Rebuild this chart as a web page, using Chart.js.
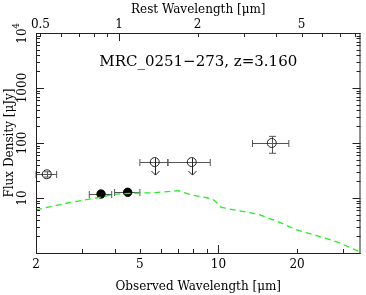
<!DOCTYPE html>
<html>
<head>
<meta charset="utf-8">
<script src="https://cdn.jsdelivr.net/npm/chart.js@4.4.1/dist/chart.umd.min.js"></script>
<style>
  html, body { margin: 0; padding: 0; background: #fff; }
  #wrap { width: 366px; height: 295px; }
</style>
</head>
<body>
<div id="wrap"><canvas id="sed" width="366" height="295"></canvas></div>
<script>
const redshift = 3.160;
const objName = "MRC_0251\u2212273, z=3.160";

// open circles with error bars (K band, 16um)
const openWave = [2.2, 16];
const openFlux = [27, 100];
const openWaveLo = [2.0, 13.5];
const openWaveHi = [2.4, 18.6];
const openFluxLo = [24, 65];
const openFluxHi = [30, 132];

// IRAC detections
const irWave = [3.55, 4.49];
const irFlux = [11.8, 12.7];
const irWaveLo = [3.2, 4.0];
const irWaveHi = [3.9, 5.0];

// upper limits
const limWave = [5.7, 7.9];
const limFlux = [45, 45];
const limWaveLo = [5.0, 6.4];
const limWaveHi = [6.4, 9.3];

// stellar template (green dashed)
const sedWave = [2.0, 2.54, 2.94, 3.4, 4.04, 4.95, 5.73, 7.02, 7.89, 9.12, 9.39, 9.81, 10.25, 11.85, 14.1, 16.8, 20, 23.8, 28.4, 34.7];
const sedFlux = [6.1, 7.8, 8.9, 10, 11.8, 12.3, 12.5, 13.6, 11.3, 10, 9.9, 8.35, 6.77, 5.88, 5.12, 3.77, 2.62, 2.06, 1.6, 1.06];

// ticks
const obsTicks = [2, 3, 4, 5, 6, 7, 8, 9, 10, 20, 30];
const obsLabels = [2, 5, 10, 20];
const restTicks = [0.5, 0.6, 0.7, 0.8, 0.9, 1, 2, 3, 4, 5, 6, 7, 8];
const restLabels = [0.5, 1, 2, 5];
const fluxTicks = [1, 2, 3, 4, 5, 6, 7, 8, 9, 10, 20, 30, 40, 50, 60, 70, 80, 90,
  100, 200, 300, 400, 500, 600, 700, 800, 900, 1000, 2000, 3000, 4000, 5000, 6000, 7000, 8000, 9000, 10000];
const fluxLabels = [10, 100, 1000];

const serif = "'DejaVu Serif', serif";
const ink = "#222";
const barInk = "#555";

const isDecade = v => Math.abs(Math.log10(v) - Math.round(Math.log10(v))) < 1e-6;

const framePlugin = {
  id: "frame",
  beforeDatasetsDraw(chart) {
    const ctx = chart.ctx;
    const xs = chart.scales.x, ys = chart.scales.y;
    ctx.save();
    ctx.strokeStyle = barInk;
    ctx.lineWidth = 1;
    const bar = (x1, y1, x2, y2) => {
      ctx.beginPath(); ctx.moveTo(x1, y1); ctx.lineTo(x2, y2); ctx.stroke();
    };
    const hbar = (lo, hi, v) => {
      const y = Math.round(ys.getPixelForValue(v)) + 0.5;
      const a = xs.getPixelForValue(lo), b = xs.getPixelForValue(hi);
      bar(a, y, b, y); bar(a, y - 3.5, a, y + 3.5); bar(b, y - 3.5, b, y + 3.5);
    };
    const vbar = (x0, lo, hi) => {
      const x = Math.round(xs.getPixelForValue(x0)) + 0.5;
      const a = ys.getPixelForValue(lo), b = ys.getPixelForValue(hi);
      bar(x, a, x, b); bar(x - 3.5, a, x + 3.5, a); bar(x - 3.5, b, x + 3.5, b);
    };
    openWave.forEach((w, i) => {
      hbar(openWaveLo[i], openWaveHi[i], openFlux[i]);
      vbar(w, openFluxLo[i], openFluxHi[i]);
    });
    irWave.forEach((w, i) => hbar(irWaveLo[i], irWaveHi[i], irFlux[i]));
    limWave.forEach((w, i) => {
      hbar(limWaveLo[i], limWaveHi[i], limFlux[i]);
      const x = Math.round(xs.getPixelForValue(w)) + 0.5;
      const y = ys.getPixelForValue(limFlux[i]);
      ctx.strokeStyle = ink;
      bar(x, y - 4, x, y + 13);
      bar(x - 4, y + 9, x, y + 13); bar(x + 4, y + 9, x, y + 13);
      ctx.strokeStyle = barInk;
    });
    ctx.restore();
  },
  afterDraw(chart) {
    const ctx = chart.ctx;
    const a = chart.chartArea;
    const xs = chart.scales.x, xt = chart.scales.x2, ys = chart.scales.y;
    ctx.save();
    ctx.strokeStyle = ink;
    ctx.lineWidth = 1;
    ctx.strokeRect(a.left + 0.5, a.top + 0.5, a.right - a.left - 1, a.bottom - a.top);
    ctx.beginPath();
    obsTicks.forEach(v => {
      const x = Math.round(xs.getPixelForValue(v)) + 0.5;
      const len = isDecade(v) ? 8 : 4;
      ctx.moveTo(x, a.bottom); ctx.lineTo(x, a.bottom - len);
    });
    restTicks.forEach(v => {
      const x = Math.round(xt.getPixelForValue(v)) + 0.5;
      const len = isDecade(v) ? 8 : 4;
      ctx.moveTo(x, a.top); ctx.lineTo(x, a.top + len);
    });
    fluxTicks.forEach(v => {
      const y = Math.round(ys.getPixelForValue(v)) + 0.5;
      const len = isDecade(v) ? 8 : 4;
      ctx.moveTo(a.left, y); ctx.lineTo(a.left + len, y);
      ctx.moveTo(a.right, y); ctx.lineTo(a.right - len, y);
    });
    ctx.stroke();

    // rotated y tick labels
    ctx.fillStyle = "#000";
    ctx.font = "12px " + serif;
    ctx.textAlign = "center";
    ctx.textBaseline = "middle";
    fluxLabels.forEach(v => {
      ctx.save();
      ctx.translate(23, ys.getPixelForValue(v));
      ctx.rotate(-Math.PI / 2);
      ctx.fillText(String(v), 0, 0);
      ctx.restore();
    });
    ctx.save();
    ctx.translate(23, ys.getPixelForValue(10000));
    ctx.rotate(-Math.PI / 2);
    ctx.fillText("10", -3, 0);
    ctx.font = "9px " + serif;
    ctx.fillText("4", 7, -6);
    ctx.restore();

    // object label inside the frame
    ctx.font = "15px " + serif;
    ctx.fillText(objName, (a.left + a.right) / 2, a.top + 29);
    ctx.restore();
  }
};

new Chart("sed", {
  type: "scatter",
  data: {
    datasets: [
      {
        type: "line",
        data: sedWave.map((w, i) => ({ x: w, y: sedFlux[i] })),
        borderColor: "#22ee22",
        borderWidth: 1.3,
        borderDash: [6, 4],
        pointRadius: 0,
        fill: false,
        tension: 0
      },
      {
        data: openWave.map((w, i) => ({ x: w, y: openFlux[i] })),
        pointStyle: "circle",
        pointRadius: 4.5,
        borderWidth: 1,
        borderColor: ink,
        backgroundColor: "rgba(0,0,0,0)"
      },
      {
        data: irWave.map((w, i) => ({ x: w, y: irFlux[i] })),
        pointStyle: "circle",
        pointRadius: 4.2,
        borderWidth: 1,
        borderColor: "#000",
        backgroundColor: "#000"
      },
      {
        data: limWave.map((w, i) => ({ x: w, y: limFlux[i] })),
        pointStyle: "circle",
        pointRadius: 4.5,
        borderWidth: 1,
        borderColor: ink,
        backgroundColor: "rgba(0,0,0,0)"
      }
    ]
  },
  options: {
    responsive: false,
    animation: false,
    devicePixelRatio: 1,
    layout: { padding: { right: 2 } },
    plugins: { legend: { display: false }, tooltip: { enabled: false } },
    scales: {
      x: {
        type: "logarithmic",
        position: "bottom",
        min: 2,
        max: 35,
        grid: { display: false, drawTicks: false },
        border: { display: false },
        afterBuildTicks: s => { s.ticks = obsTicks.map(v => ({ value: v })); },
        afterFit: s => { s.height = 42; },
        ticks: {
          autoSkip: false, maxRotation: 0, minRotation: 0, padding: 5,
          color: "#000", font: { family: serif, size: 12 },
          callback: v => obsLabels.includes(v) ? String(v) : ""
        },
        title: {
          display: true, text: "Observed Wavelength [\u03bcm]", color: "#000",
          font: { family: serif, size: 12 }, padding: { top: 0, bottom: 1 }
        }
      },
      x2: {
        type: "logarithmic",
        position: "top",
        min: 2 / (1 + redshift),
        max: 35 / (1 + redshift),
        grid: { display: false, drawTicks: false },
        border: { display: false },
        afterBuildTicks: s => { s.ticks = restTicks.map(v => ({ value: v })); },
        afterFit: s => { s.height = 33; },
        ticks: {
          autoSkip: false, maxRotation: 0, minRotation: 0, padding: 1,
          color: "#000", font: { family: serif, size: 12 },
          callback: v => restLabels.includes(v) ? String(v) : ""
        },
        title: {
          display: true, text: "Rest Wavelength [\u03bcm]", color: "#000",
          font: { family: serif, size: 12 }, padding: { top: 3, bottom: 0 }
        }
      },
      y: {
        type: "logarithmic",
        min: 1,
        max: 10000,
        grid: { display: false },
        border: { display: false },
        afterFit: s => { s.width = 36; },
        ticks: { display: false },
        title: {
          display: true, text: "Flux Density [\u03bcJy]", color: "#000",
          font: { family: serif, size: 12 }, padding: { top: 3, bottom: 0 }
        }
      }
    }
  },
  plugins: [framePlugin]
});
</script>
</body>
</html>
